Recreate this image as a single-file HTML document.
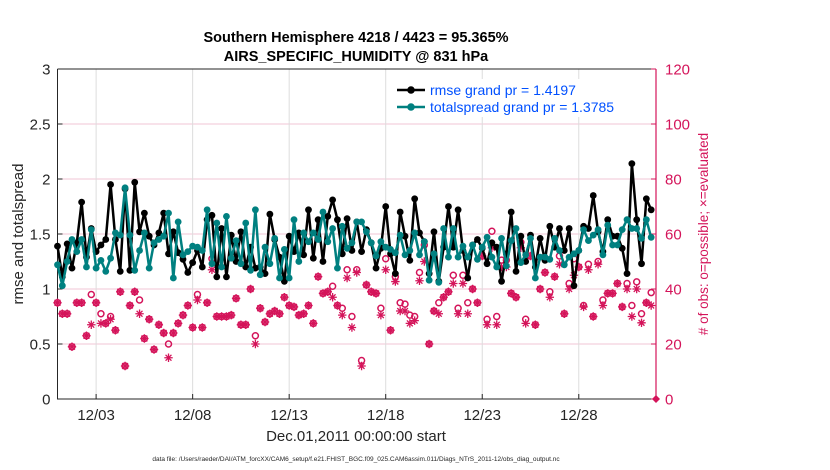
<!DOCTYPE html>
<html><head><meta charset="utf-8">
<style>
body{margin:0;background:#fff;}
svg{display:block;font-family:"Liberation Sans",Arial,sans-serif;}
</style></head>
<body>
<svg id="chart" width="830" height="470" viewBox="0 0 830 470">
  <rect x="0" y="0" width="830" height="470" fill="#fff"/>
  <text x="356" y="42" text-anchor="middle" font-size="14.5" font-weight="bold">Southern Hemisphere 4218 / 4423 = 95.365%</text>
  <text x="356" y="61" text-anchor="middle" font-size="14.5" font-weight="bold">AIRS_SPECIFIC_HUMIDITY @ 831 hPa</text>
  <g id="grid"></g>
  <g id="axes"></g>
  <g id="marks"></g>
  <text transform="translate(23,234) rotate(-90)" text-anchor="middle" font-size="15" fill="#262626">rmse and totalspread</text>
  <text transform="translate(708,234) rotate(-90)" text-anchor="middle" font-size="13.5" fill="#d4145a"># of obs: o=possible; ×=evaluated</text>
  <text x="356" y="441" text-anchor="middle" font-size="15" fill="#262626">Dec.01,2011 00:00:00 start</text>
  <text x="356" y="461" text-anchor="middle" font-size="6.5" fill="#262626">data file: /Users/raeder/DAI/ATM_forcXX/CAM6_setup/f.e21.FHIST_BGC.f09_025.CAM6assim.011/Diags_NTrS_2011-12/obs_diag_output.nc</text>
  <g>
    <rect x="392" y="79" width="212" height="38" fill="#fff"/>
    <line x1="397" y1="90" x2="425" y2="90" stroke="#000" stroke-width="2.5"/>
    <circle cx="411" cy="90" r="3.8" fill="#000"/>
    <text x="430" y="95" font-size="14" fill="#0050ff">rmse grand pr = 1.4197</text>
    <line x1="397" y1="107" x2="425" y2="107" stroke="#008080" stroke-width="2.5"/>
    <circle cx="411" cy="107" r="3.8" fill="#008080"/>
    <text x="430" y="112" font-size="14" fill="#0050ff">totalspread grand pr = 1.3785</text>
  </g>
</svg>
<script>
const rmse = [1.39,1.11,1.41,1.19,1.42,1.79,1.29,1.55,1.34,1.40,1.45,1.95,1.45,1.16,1.91,1.17,1.97,1.52,1.69,1.48,1.40,1.51,1.69,1.32,1.52,1.33,1.27,1.15,1.24,1.35,1.20,1.63,1.67,1.11,1.55,1.11,1.49,1.25,1.52,1.20,1.38,1.19,1.20,1.14,1.68,1.45,1.29,1.07,1.48,1.34,1.51,1.31,1.72,1.28,1.63,1.25,1.66,1.81,1.63,1.32,1.64,1.35,1.61,1.34,1.54,1.42,1.19,1.37,1.75,1.32,1.14,1.70,1.48,1.26,1.82,1.51,1.43,1.14,1.52,1.07,1.38,1.75,1.38,1.72,1.35,1.10,1.40,1.45,1.37,1.23,1.42,1.38,1.07,1.32,1.70,1.16,1.48,1.25,1.49,1.20,1.46,1.26,1.57,1.38,1.55,1.35,1.55,1.03,1.35,1.57,1.55,1.85,1.52,1.34,1.63,1.48,1.48,1.37,1.14,2.14,1.63,1.23,1.82,1.72];
const spread = [1.22,1.03,1.25,1.45,1.34,1.45,1.20,1.54,1.19,1.26,1.16,1.28,1.51,1.49,1.92,1.49,1.17,1.35,1.51,1.19,1.42,1.45,1.48,1.69,1.10,1.61,1.31,1.34,1.39,1.38,1.35,1.72,1.23,1.60,1.20,1.66,1.28,1.44,1.23,1.60,1.17,1.72,1.13,1.38,1.23,1.46,1.10,1.36,1.10,1.63,1.25,1.51,1.43,1.51,1.45,1.70,1.43,1.55,1.19,1.57,1.37,1.42,1.61,1.61,1.52,1.42,1.30,1.43,1.38,1.36,1.33,1.49,1.31,1.35,1.51,1.31,1.43,1.08,1.32,1.06,1.55,1.29,1.55,1.29,1.39,1.29,1.40,1.27,1.38,1.47,1.29,1.20,1.46,1.21,1.44,1.55,1.24,1.31,1.46,1.10,1.29,1.29,1.27,1.46,1.35,1.22,1.29,1.32,1.35,1.54,1.44,1.49,1.54,1.31,1.58,1.40,1.40,1.54,1.63,1.55,1.55,1.46,1.63,1.47];
const evaluated = [35,31,31,19,35,35,23,27,35,27.5,27.5,29,25,39,12,34,39,31,22,29,18,27,24,15,24,27.5,30.5,34,26,36,26,35,47,30,30,30,30.5,36.6,27,27,40,20,33,28,31,32,31,37,34,33.5,30.5,31,34,27.5,44.5,38.4,39,37,34,30.5,44,26,46,12,41.5,39,38.4,30.5,47,25,42.7,32,32,27.5,28.5,43,50,20,32,31,37,39,42,31,42,31,40,35,52,27,55,27,48,48,38.4,37,55,27.5,52,27,40,46,37,44.5,49,31,40,45,48,33.5,47,30,49,34,38.4,38.4,42,33.5,40,30,40,27.7,35,34];
const possible = [35,31,31,19,35,35,23,38,35,31,27.5,30,25,39,12,34,39,36,22,29,18,27,24,20,24,27.5,30.5,34,26,38,26,35,51,30,30,30,30.5,36.6,27,27,40,23,33,28,31,32,31,37,34,33.5,30.5,31,34,27.5,44.5,38.4,39,41,34,33,47,30,47,14,41.5,39,38.4,33,51,25,44.5,35,34.5,30.5,30,46,56,20,32,35,37,39,45,33,45,35,40,35,52,29,61,30,50.5,50.5,38.4,37,57,29,52,27,40,46,39,44.5,52,31,42,51,48,34,49,30,50,36,38.4,38.4,42,33.5,42,34,42.6,31,35,38.7];
const xTickDays = [2,7,12,17,22,27];
const xTickLabels = ["12/03","12/08","12/13","12/18","12/23","12/28"];
const yTicks = [0,0.5,1,1.5,2,2.5,3];
const yTickLabels = ["0","0.5","1","1.5","2","2.5","3"];
const y2Ticks = [0,20,40,60,80,100,120];

const NS="http://www.w3.org/2000/svg";
const L=57.5,R=656,T=69,B=399;
const xs=d=>L+(d/31)*(R-L);
const ys=v=>B-(v/3)*(B-T);
const ys2=c=>B-(c/120)*(B-T);
const PINK="#d4145a";
function mk(tag,attrs,parent){const e=document.createElementNS(NS,tag);for(const k in attrs)e.setAttribute(k,attrs[k]);parent.appendChild(e);return e;}
const grid=document.getElementById('grid'),axes=document.getElementById('axes'),marks=document.getElementById('marks');

y2Ticks.forEach((c,i)=>{
  if(c===0||c===120)return;
  const g=mk('line',{x1:L,x2:R,y1:ys2(c),y2:ys2(c),stroke:'#f2c6d6','stroke-width':1},grid);
  
  
});
xTickDays.forEach((d,i)=>{
  const g=mk('line',{x1:xs(d),x2:xs(d),y1:T,y2:B,stroke:'#dcdcdc','stroke-width':1},grid);
  
  
  const t=mk('line',{x1:xs(d),x2:xs(d),y1:B,y2:B-5,stroke:'#262626'},axes);
  
  
  const lb=mk('text',{x:xs(d),y:B+21,'text-anchor':'middle','font-size':15,fill:'#262626'},axes);
  lb.textContent=xTickLabels[i];
  
  
});
const frame=mk('path',{d:`M${L},${T}H${R}M${L},${T}V${B}H${R}`,stroke:'#262626',fill:'none','stroke-width':1},axes);


const rax=mk('line',{x1:R,x2:R,y1:T,y2:B,stroke:PINK,'stroke-width':1.2},axes);


yTicks.forEach((v,i)=>{
  const t=mk('line',{x1:L,x2:L+5,y1:ys(v),y2:ys(v),stroke:'#262626'},axes);
  
  
  const lb=mk('text',{x:L-7,y:ys(v)+5.5,'text-anchor':'end','font-size':15,fill:'#262626'},axes);
  lb.textContent=yTickLabels[i];
  
  
});
y2Ticks.forEach(c=>{
  const t=mk('line',{x1:R-5,x2:R,y1:ys2(c),y2:ys2(c),stroke:PINK},axes);
  
  
  const lb=mk('text',{x:R+9,y:ys2(c)+5.5,'font-size':15,fill:PINK},axes);
  lb.textContent=String(c);
  
  
});

possible.forEach((c,i)=>{
  const e=mk('circle',{cx:xs(i*0.25),cy:ys2(c),r:3,fill:'none',stroke:PINK,'stroke-width':1.5},marks);
  
  
});
evaluated.forEach((c,i)=>{
  const x=xs(i*0.25),y=ys2(c),s=4.2;
  const e=mk('path',{d:`M${x-s},${y}H${x+s}M${x},${y-s}V${y+s}M${x-s*0.7},${y-s*0.7}L${x+s*0.7},${y+s*0.7}M${x-s*0.7},${y+s*0.7}L${x+s*0.7},${y-s*0.7}`,stroke:PINK,'stroke-width':1.3,fill:'none'},marks);
  
  
});
const z=mk('path',{d:`M${R-4},${B}L${R},${B-4}L${R+4},${B}L${R},${B+4}Z`,fill:PINK},marks);



function series(vals,color,name){
  const d=vals.map((v,i)=>(i?'L':'M')+xs(i*0.25).toFixed(2)+','+ys(v).toFixed(2)).join('');
  const p=mk('path',{d,stroke:color,'stroke-width':2.5,fill:'none','stroke-linejoin':'round'},marks);
  
  
  vals.forEach((v,i)=>{
    const c=mk('circle',{cx:xs(i*0.25),cy:ys(v),r:3.4,fill:color},marks);
    
    
  });
}
series(rmse,'#000','rmse');
series(spread,'#008080','totalspread');
</script>
</body></html>
